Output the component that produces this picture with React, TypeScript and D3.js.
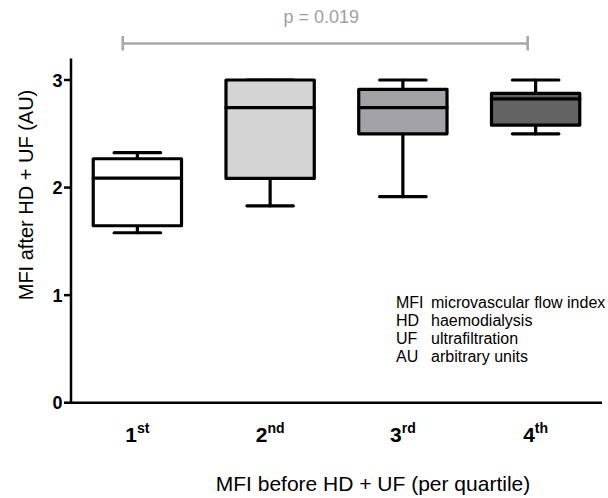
import React from 'react';
import * as d3 from 'd3';

const categories = ['1', '2', '3', '4'];
const ordinalSuffix = ['st', 'nd', 'rd', 'th'];
const whiskerLow = [1.58, 1.83, 1.915, 2.5];
const quartile1 = [1.645, 2.085, 2.5, 2.58];
const medians = [2.088, 2.744, 2.744, 2.824];
const quartile3 = [2.268, 3.0, 2.913, 2.876];
const whiskerHigh = [2.324, 3.0, 3.0, 3.0];
const boxFills = ['#ffffff', '#d4d4d4', '#a3a2a7', '#636363'];
const yTicks = [0, 1, 2, 3];
const legendAbbr = ['MFI', 'HD', 'UF', 'AU'];
const legendText = ['microvascular flow index', 'haemodialysis', 'ultrafiltration', 'arbitrary units'];
const pLabel = 'p = 0.019';
const pBracketLevel = 3.34;

const W = 608;
const H = 498;
const FONT = "Arial, 'Liberation Sans', Helvetica, sans-serif";

export default function App() {
  const x = d3.scaleBand<string>().domain(categories).range([71, 602]).padding(0);
  const y = d3.scaleLinear().domain([0, 3]).range([402.7, 80]);
  const step = x.step();
  const boxW = step * 0.665;
  const capW = step * 0.35;
  const cx = (c: string) => (x(c) as number) + step / 2;
  const yTop = y(3.2);

  const bx1 = (x('1') as number) + step * 0.39;
  const bx2 = (x('4') as number) + step * 0.44;
  const by = y(pBracketLevel);

  return (
    <svg width={W} height={H} style={{ position: 'absolute', left: 0, top: 0, background: '#fff' }} fontFamily={FONT}>
      {/* p-value bracket */}
      <g stroke="#a8a8a8" strokeWidth={2.6} fill="none">
        <line x1={bx1} x2={bx2} y1={by} y2={by} />
        <line x1={bx1} x2={bx1} y1={by - 7.5} y2={by + 7} />
        <line x1={bx2} x2={bx2} y1={by - 7.5} y2={by + 7} />
      </g>
      <text x={(bx1 + bx2) / 2 - 4} y={22.5} textAnchor="middle" fontSize={18} fill="#a0a0a0">{pLabel}</text>

      {/* axes */}
      <g stroke="#000" strokeWidth={2.5} fill="none">
        <line x1={71} x2={71} y1={yTop} y2={y(0) + 1.2} />
        <line x1={69.8} x2={602} y1={y(0)} y2={y(0)} />
        {yTicks.map((t) => (
          <line key={t} x1={64} x2={71} y1={y(t)} y2={y(t)} />
        ))}
      </g>
      {yTicks.map((t) => (
        <text key={t} x={62.5} y={y(t) + 6.5} textAnchor="end" fontSize={18} fontWeight="bold" fill="#000">{t}</text>
      ))}

      {/* boxes */}
      {categories.map((c, i) => {
        const m = cx(c);
        return (
          <g key={c} stroke="#000" strokeWidth={3.2} strokeLinecap="round" strokeLinejoin="round">
            <line x1={m} x2={m} y1={y(whiskerHigh[i])} y2={y(quartile3[i])} />
            <line x1={m} x2={m} y1={y(quartile1[i])} y2={y(whiskerLow[i])} />
            <line x1={m - capW / 2} x2={m + capW / 2} y1={y(whiskerHigh[i])} y2={y(whiskerHigh[i])} />
            <line x1={m - capW / 2} x2={m + capW / 2} y1={y(whiskerLow[i])} y2={y(whiskerLow[i])} />
            <rect x={m - boxW / 2} width={boxW} y={y(quartile3[i])} height={y(quartile1[i]) - y(quartile3[i])} fill={boxFills[i]} />
            <line x1={m - boxW / 2} x2={m + boxW / 2} y1={y(medians[i])} y2={y(medians[i])} />
          </g>
        );
      })}

      {/* x tick labels */}
      {categories.map((c, i) => (
        <text key={c} x={cx(c)} y={442} textAnchor="middle" fontWeight="bold" fill="#000">
          <tspan fontSize={21}>{c}</tspan>
          <tspan fontSize={14} dy={-9}>{ordinalSuffix[i]}</tspan>
        </text>
      ))}

      {/* axis titles */}
      <text x={373} y={491} textAnchor="middle" fontSize={21} fill="#000">MFI before HD + UF (per quartile)</text>
      <text transform={`translate(33,195) rotate(-90)`} textAnchor="middle" fontSize={20} fill="#000">MFI after HD + UF (AU)</text>

      {/* legend */}
      {legendAbbr.map((a, i) => (
        <g key={a}>
          <text x={396} y={308.3 + i * 18} fontSize={16} fill="#000">{a}</text>
          <text x={431} y={308.3 + i * 18} fontSize={16} fill="#000">{legendText[i]}</text>
        </g>
      ))}
    </svg>
  );
}
